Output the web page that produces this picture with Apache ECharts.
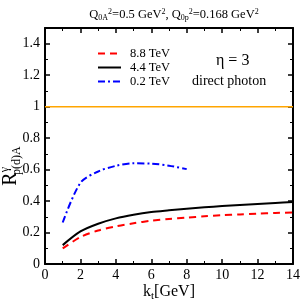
<!DOCTYPE html>
<html><head><meta charset="utf-8">
<script src="https://cdn.jsdelivr.net/npm/echarts@6/dist/echarts.min.js"></script>
<style>html,body{margin:0;padding:0;background:#fff}#c{width:300px;height:300px}</style>
</head><body><div id="c"></div>
<script>
const kt = [1, 2, 3, 4, 5, 6, 7, 8, 9, 10, 11, 12, 13, 14];
const r88 = [0.099, 0.171, 0.213, 0.239, 0.259, 0.275, 0.286, 0.295, 0.303, 0.310, 0.315, 0.320, 0.324, 0.328];
const r44 = [0.120, 0.207, 0.256, 0.290, 0.313, 0.330, 0.341, 0.351, 0.360, 0.368, 0.375, 0.382, 0.388, 0.394];
const kt02 = [1, 2, 3, 4, 5, 6, 7, 8];
const r02 = [0.264, 0.516, 0.588, 0.624, 0.640, 0.638, 0.625, 0.603];
const unityX = [0, 14];
const unityY = [1, 1];
const names = ['8.8 TeV', '4.4 TeV', '0.2 TeV'];

const F = 'Liberation Serif';
const pairs = (xs, ys) => xs.map((x, i) => [x, ys[i]]);
const chart = echarts.init(document.getElementById('c'));
const tickBase = {
  axisLine: {show: true, onZero: false, lineStyle: {color: '#000', width: 2}},
  axisTick: {show: true, inside: true, length: 5, lineStyle: {color: '#000', width: 1.5}},
  minorTick: {show: true, splitNumber: 2, length: 3, lineStyle: {color: '#000', width: 1}},
  splitLine: {show: false}
};
chart.setOption({
  animation: false,
  backgroundColor: '#fff',
  grid: {left: 45, right: 7, top: 28, bottom: 36, outerBoundsMode: 'none', containLabel: false},
  title: {
    text: 'Q{s|0A}{u|2}=0.5 GeV{u|2}, Q{s|0p}{u|2}=0.168 GeV{u|2}',
    left: 169, top: 3, textAlign: 'center',
    textStyle: {fontFamily: F, fontSize: 12.5, fontWeight: 'normal', color: '#000',
      rich: {
        s: {fontFamily: F, fontSize: 8, verticalAlign: 'bottom', padding: [6, 0, 0, 0]},
        u: {fontFamily: F, fontSize: 8, verticalAlign: 'top', padding: [0, 0, 6, 0]}
      }}
  },
  legend: {
    data: names, orient: 'vertical', left: 97, top: 47, padding: 0,
    itemWidth: 23, itemHeight: 8, itemGap: 1,
    itemStyle: {opacity: 0},
    textStyle: {fontFamily: F, fontSize: 12.5, color: '#000', lineHeight: 10, padding: [0, 0, 0, 4]}
  },
  xAxis: [
    Object.assign({}, tickBase, {
      type: 'value', min: 0, max: 14, interval: 2, position: 'bottom',
      name: 'k{s|t}[GeV]', nameLocation: 'middle', nameGap: 18, nameMoveOverlap: false,
      nameTextStyle: {fontFamily: F, fontSize: 16, color: '#000',
        rich: {s: {fontFamily: F, fontSize: 11, verticalAlign: 'bottom', padding: [9, 0, 0, 0]}}},
      axisLabel: {fontFamily: F, fontSize: 14, color: '#000', margin: 4}
    }),
    Object.assign({}, tickBase, {
      type: 'value', min: 0, max: 14, interval: 2, position: 'top',
      axisLabel: {show: false}
    })
  ],
  yAxis: [
    Object.assign({}, tickBase, {
      type: 'value', min: 0, max: 1.5, interval: 0.2, position: 'left',
      name: 'R{u|γ}{s|p(d)A}', nameLocation: 'middle', nameGap: 22, nameRotate: 90, nameMoveOverlap: false,
      nameTextStyle: {fontFamily: F, fontSize: 20, color: '#000', padding: [0, 40, 0, 0],
        rich: {
          u: {fontFamily: F, fontSize: 12, verticalAlign: 'top', padding: [0, 0, 12, 0]},
          s: {fontFamily: F, fontSize: 12, verticalAlign: 'bottom', padding: [8, 0, 0, -8]}
        }},
      axisLabel: {fontFamily: F, fontSize: 14, color: '#000', margin: 5, showMaxLabel: false,
        formatter: v => (v > 1.45 ? '' : String(+v.toFixed(1)))}
    }),
    Object.assign({}, tickBase, {
      type: 'value', min: 0, max: 1.5, interval: 0.2, position: 'right',
      axisLabel: {show: false}
    })
  ],
  graphic: [
    {type: 'text', left: 216, top: 53, style: {text: 'η = 3', fontFamily: F, fontSize: 16, fill: '#000'}},
    {type: 'text', left: 192, top: 74, style: {text: 'direct photon', fontFamily: F, fontSize: 14, fill: '#000'}}
  ],
  series: [
    {type: 'line', name: 'unity', data: pairs(unityX, unityY), symbol: 'none', silent: true,
      lineStyle: {color: '#FFA500', width: 1.5}, z: 1},
    {type: 'line', name: names[0], data: pairs(kt, r88), symbol: 'none', smooth: 0.3,
      itemStyle: {color: '#FF0000'}, lineStyle: {color: '#FF0000', width: 2, type: [7, 5]}},
    {type: 'line', name: names[1], data: pairs(kt, r44), symbol: 'none', smooth: 0.3,
      itemStyle: {color: '#000'}, lineStyle: {color: '#000', width: 2}},
    {type: 'line', name: names[2], data: pairs(kt02, r02), symbol: 'none', smooth: 0.3,
      itemStyle: {color: '#0000FF'}, lineStyle: {color: '#0000FF', width: 2, type: [7, 3, 2, 3]}}
  ]
});
</script></body></html>
